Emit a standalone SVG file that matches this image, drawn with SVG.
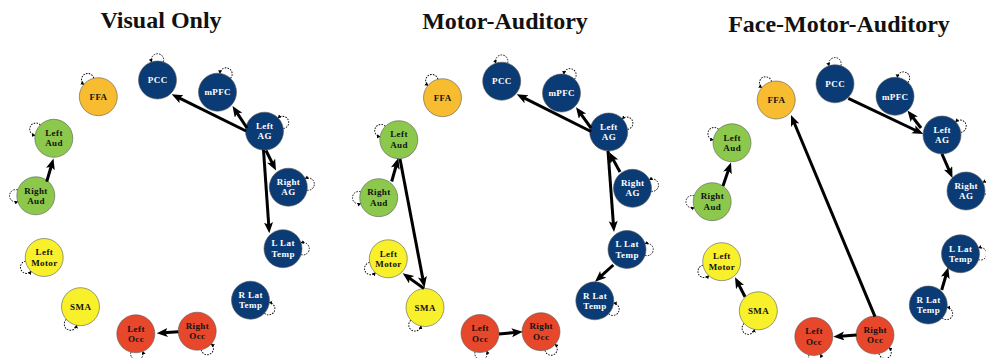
<svg xmlns="http://www.w3.org/2000/svg" xmlns:xlink="http://www.w3.org/1999/xlink" width="986" height="358" viewBox="0 0 986 358">
<style>
.title{font-family:"Liberation Serif","DejaVu Serif",serif;font-weight:bold;font-size:24px;fill:#111;text-anchor:middle}
.lbl{font-family:"Liberation Serif","DejaVu Serif",serif;font-weight:bold;font-size:9px;letter-spacing:0.4px;text-anchor:middle}
.b circle{fill:#0b3b74}.b text{fill:#fff}
.g circle{fill:#8cc84b}.y circle{fill:#f7f02b}.o circle{fill:#f7bc2f}.r circle{fill:#e7472b}
.g text,.y text,.o text,.r text{fill:#111}
circle{stroke:#5a5a5a;stroke-width:0.6}
.e{stroke:#000;stroke-width:3;fill:none;marker-end:url(#ah)}
</style>
<defs>
<marker id="ah" markerUnits="userSpaceOnUse" markerWidth="12" markerHeight="10" refX="4" refY="4.5" orient="auto"><path d="M0,0 L11,4.5 L0,9 L2.5,4.5 z" fill="#000"/></marker>
<marker id="lh" markerUnits="userSpaceOnUse" markerWidth="5" markerHeight="5" refX="3" refY="2" orient="auto"><path d="M0,0 L3.5,2 L0,4 z" fill="#000"/></marker>
<path id="loop" d="M18.07 5.87 A6.2 6.2 0 1 0 18.07 -5.87" fill="none" stroke="#000" stroke-width="0.9" stroke-dasharray="1.6 1.2" marker-end="url(#lh)"/>
</defs>
<rect width="986" height="358" fill="#fff"/>
<text class="title" x="161" y="27.5">Visual Only</text>
<text class="title" x="505" y="28.5">Motor-Auditory</text>
<text class="title" x="839" y="31.5">Face-Motor-Auditory</text>

<g id="panel1">
<g id="p1-PCC" class="b"><use href="#loop" transform="translate(157.5,80) rotate(-90)"/><circle cx="157.5" cy="80" r="19"/><text class="lbl" x="157.7" y="83.2">PCC</text></g>
<g id="p1-mPFC" class="b"><use href="#loop" transform="translate(217.5,92.2) rotate(-65)"/><circle cx="217.5" cy="92.2" r="19"/><text class="lbl" x="217.7" y="95.4">mPFC</text></g>
<g id="p1-LeftAG" class="b"><use href="#loop" transform="translate(264.5,131.2) rotate(-26)"/><circle cx="264.5" cy="131.2" r="19"/><text class="lbl" x="264.7" y="128.9">Left</text><text class="lbl" x="264.7" y="139.3">AG</text></g>
<g id="p1-RightAG" class="b"><use href="#loop" transform="translate(288.3,187.2) rotate(-9)"/><circle cx="288.3" cy="187.2" r="19"/><text class="lbl" x="288.5" y="184.9">Right</text><text class="lbl" x="288.5" y="195.3">AG</text></g>
<g id="p1-LLatTemp" class="b"><use href="#loop" transform="translate(283,248.7) rotate(0)"/><circle cx="283" cy="248.7" r="19"/><text class="lbl" x="283.2" y="246.4">L Lat</text><text class="lbl" x="283.2" y="256.8">Temp</text></g>
<g id="p1-RLatTemp" class="b"><use href="#loop" transform="translate(250.5,300.2) rotate(25)"/><circle cx="250.5" cy="300.2" r="19"/><text class="lbl" x="250.7" y="297.9">R Lat</text><text class="lbl" x="250.7" y="308.3">Temp</text></g>
<g id="p1-RightOcc" class="r"><use href="#loop" transform="translate(197.2,331.2) rotate(60)"/><circle cx="197.2" cy="331.2" r="19"/><text class="lbl" x="197.4" y="328.9">Right</text><text class="lbl" x="197.4" y="339.3">Occ</text></g>
<g id="p1-LeftOcc" class="r"><use href="#loop" transform="translate(135.8,333.8) rotate(87)"/><circle cx="135.8" cy="333.8" r="19"/><text class="lbl" x="136" y="331.5">Left</text><text class="lbl" x="136" y="341.9">Occ</text></g>
<g id="p1-SMA" class="y"><use href="#loop" transform="translate(80.5,306.7) rotate(120)"/><circle cx="80.5" cy="306.7" r="19"/><text class="lbl" x="80.7" y="309.9">SMA</text></g>
<g id="p1-LeftMotor" class="y"><use href="#loop" transform="translate(44.2,257.5) rotate(151)"/><circle cx="44.2" cy="257.5" r="19"/><text class="lbl" x="44.4" y="255.2">Left</text><text class="lbl" x="44.4" y="265.6">Motor</text></g>
<g id="p1-RightAud" class="g"><use href="#loop" transform="translate(35.8,195.8) rotate(180)"/><circle cx="35.8" cy="195.8" r="19"/><text class="lbl" x="36" y="193.5">Right</text><text class="lbl" x="36" y="203.9">Aud</text></g>
<g id="p1-LeftAud" class="g"><use href="#loop" transform="translate(53.8,138.3) rotate(-153)"/><circle cx="53.8" cy="138.3" r="19"/><text class="lbl" x="54" y="136">Left</text><text class="lbl" x="54" y="146.4">Aud</text></g>
<g id="p1-FFA" class="o"><use href="#loop" transform="translate(98.3,96.7) rotate(-122)"/><circle cx="98.3" cy="96.7" r="19"/><text class="lbl" x="98.5" y="99.9">FFA</text></g>
</g>

<g id="panel2">
<g id="p2-PCC" class="b"><use href="#loop" transform="translate(501.7,81.2) rotate(-90)"/><circle cx="501.7" cy="81.2" r="19"/><text class="lbl" x="501.9" y="84.4">PCC</text></g>
<g id="p2-mPFC" class="b"><use href="#loop" transform="translate(561.5,93) rotate(-65)"/><circle cx="561.5" cy="93" r="19"/><text class="lbl" x="561.7" y="96.2">mPFC</text></g>
<g id="p2-LeftAG" class="b"><use href="#loop" transform="translate(608.7,132) rotate(-26)"/><circle cx="608.7" cy="132" r="19"/><text class="lbl" x="608.9" y="129.7">Left</text><text class="lbl" x="608.9" y="140.1">AG</text></g>
<g id="p2-RightAG" class="b"><use href="#loop" transform="translate(632.5,188.3) rotate(-9)"/><circle cx="632.5" cy="188.3" r="19"/><text class="lbl" x="632.7" y="186">Right</text><text class="lbl" x="632.7" y="196.4">AG</text></g>
<g id="p2-LLatTemp" class="b"><use href="#loop" transform="translate(627,249.5) rotate(0)"/><circle cx="627" cy="249.5" r="19"/><text class="lbl" x="627.2" y="247.2">L Lat</text><text class="lbl" x="627.2" y="257.6">Temp</text></g>
<g id="p2-RLatTemp" class="b"><use href="#loop" transform="translate(594.8,300.8) rotate(25)"/><circle cx="594.8" cy="300.8" r="19"/><text class="lbl" x="595" y="298.5">R Lat</text><text class="lbl" x="595" y="308.9">Temp</text></g>
<g id="p2-RightOcc" class="r"><use href="#loop" transform="translate(541,331.7) rotate(60)"/><circle cx="541" cy="331.7" r="19"/><text class="lbl" x="541.2" y="329.4">Right</text><text class="lbl" x="541.2" y="339.8">Occ</text></g>
<g id="p2-LeftOcc" class="r"><use href="#loop" transform="translate(480,333.5) rotate(87)"/><circle cx="480" cy="333.5" r="19"/><text class="lbl" x="480.2" y="331.2">Left</text><text class="lbl" x="480.2" y="341.6">Occ</text></g>
<g id="p2-SMA" class="y"><use href="#loop" transform="translate(425,307.5) rotate(120)"/><circle cx="425" cy="307.5" r="19"/><text class="lbl" x="425.2" y="310.7">SMA</text></g>
<g id="p2-LeftMotor" class="y"><use href="#loop" transform="translate(388.3,258.8) rotate(151)"/><circle cx="388.3" cy="258.8" r="19"/><text class="lbl" x="388.5" y="256.5">Left</text><text class="lbl" x="388.5" y="266.9">Motor</text></g>
<g id="p2-RightAud" class="g"><use href="#loop" transform="translate(378.7,197.7) rotate(180)"/><circle cx="378.7" cy="197.7" r="19"/><text class="lbl" x="378.9" y="195.4">Right</text><text class="lbl" x="378.9" y="205.8">Aud</text></g>
<g id="p2-LeftAud" class="g"><use href="#loop" transform="translate(398.8,139.7) rotate(-153)"/><circle cx="398.8" cy="139.7" r="19"/><text class="lbl" x="399" y="137.4">Left</text><text class="lbl" x="399" y="147.8">Aud</text></g>
<g id="p2-FFA" class="o"><use href="#loop" transform="translate(442.5,97.7) rotate(-122)"/><circle cx="442.5" cy="97.7" r="19"/><text class="lbl" x="442.7" y="100.9">FFA</text></g>
</g>

<g id="panel3">
<g id="p3-PCC" class="b"><use href="#loop" transform="translate(835,83.8) rotate(-90)"/><circle cx="835" cy="83.8" r="19"/><text class="lbl" x="835.2" y="87">PCC</text></g>
<g id="p3-mPFC" class="b"><use href="#loop" transform="translate(895,96.3) rotate(-65)"/><circle cx="895" cy="96.3" r="19"/><text class="lbl" x="895.2" y="99.5">mPFC</text></g>
<g id="p3-LeftAG" class="b"><use href="#loop" transform="translate(942,135) rotate(-26)"/><circle cx="942" cy="135" r="19"/><text class="lbl" x="942.2" y="132.7">Left</text><text class="lbl" x="942.2" y="143.1">AG</text></g>
<g id="p3-RightAG" class="b"><use href="#loop" transform="translate(966,191) rotate(-9)"/><circle cx="966" cy="191" r="19"/><text class="lbl" x="966.2" y="188.7">Right</text><text class="lbl" x="966.2" y="199.1">AG</text></g>
<g id="p3-LLatTemp" class="b"><use href="#loop" transform="translate(960.5,253.8) rotate(0)"/><circle cx="960.5" cy="253.8" r="19"/><text class="lbl" x="960.7" y="251.5">L Lat</text><text class="lbl" x="960.7" y="261.9">Temp</text></g>
<g id="p3-RLatTemp" class="b"><use href="#loop" transform="translate(928.3,305) rotate(25)"/><circle cx="928.3" cy="305" r="19"/><text class="lbl" x="928.5" y="302.7">R Lat</text><text class="lbl" x="928.5" y="313.1">Temp</text></g>
<g id="p3-RightOcc" class="r"><use href="#loop" transform="translate(875,335) rotate(60)"/><circle cx="875" cy="335" r="19"/><text class="lbl" x="875.2" y="332.7">Right</text><text class="lbl" x="875.2" y="343.1">Occ</text></g>
<g id="p3-LeftOcc" class="r"><use href="#loop" transform="translate(813.8,336.5) rotate(87)"/><circle cx="813.8" cy="336.5" r="19"/><text class="lbl" x="814" y="334.2">Left</text><text class="lbl" x="814" y="344.6">Occ</text></g>
<g id="p3-SMA" class="y"><use href="#loop" transform="translate(758.3,310.8) rotate(120)"/><circle cx="758.3" cy="310.8" r="19"/><text class="lbl" x="758.5" y="314">SMA</text></g>
<g id="p3-LeftMotor" class="y"><use href="#loop" transform="translate(721.7,261.7) rotate(151)"/><circle cx="721.7" cy="261.7" r="19"/><text class="lbl" x="721.9" y="259.4">Left</text><text class="lbl" x="721.9" y="269.8">Motor</text></g>
<g id="p3-RightAud" class="g"><use href="#loop" transform="translate(712.2,201.7) rotate(180)"/><circle cx="712.2" cy="201.7" r="19"/><text class="lbl" x="712.4" y="199.4">Right</text><text class="lbl" x="712.4" y="209.8">Aud</text></g>
<g id="p3-LeftAud" class="g"><use href="#loop" transform="translate(732,142.8) rotate(-153)"/><circle cx="732" cy="142.8" r="19"/><text class="lbl" x="732.2" y="140.5">Left</text><text class="lbl" x="732.2" y="150.9">Aud</text></g>
<g id="p3-FFA" class="o"><use href="#loop" transform="translate(776.2,100) rotate(-122)"/><circle cx="776.2" cy="100" r="19"/><text class="lbl" x="776.4" y="103.2">FFA</text></g>
</g>

<g id="connectors">
<line class="e" x1="246" y1="131" x2="177.98" y2="97.4"/>
<line class="e" x1="247" y1="128" x2="236.35" y2="111.84"/>
<line class="e" x1="266" y1="150.5" x2="272.87" y2="164.24"/>
<line class="e" x1="263.5" y1="150" x2="268.81" y2="226.32"/>
<line class="e" x1="46.7" y1="181.7" x2="51.53" y2="165.22"/>
<line class="e" x1="178.3" y1="331.7" x2="163.68" y2="332.78"/>

<line class="e" x1="591" y1="131.5" x2="522.96" y2="97.43"/>
<line class="e" x1="591" y1="128" x2="580.11" y2="112.97"/>
<line class="e" x1="620" y1="172" x2="612.37" y2="158.13"/>
<line class="e" x1="608" y1="151" x2="613.48" y2="225.02"/>
<line class="e" x1="613.3" y1="265" x2="600.17" y2="276.98"/>
<line class="e" x1="391.7" y1="181.5" x2="396.41" y2="164.74"/>
<line class="e" x1="400" y1="159" x2="423.19" y2="280.62"/>
<line class="e" x1="424" y1="288.5" x2="408.4" y2="277.37"/>
<line class="e" x1="499" y1="334" x2="515.73" y2="332.38"/>

<line class="e" x1="848.3" y1="98.3" x2="916.98" y2="130.99"/>
<line class="e" x1="921" y1="128" x2="911.78" y2="116.04"/>
<line class="e" x1="942" y1="154" x2="949.69" y2="171.59"/>
<line class="e" x1="941.7" y1="290" x2="946.35" y2="274.02"/>
<line class="e" x1="875" y1="316.7" x2="793.69" y2="121.46"/>
<line class="e" x1="856.5" y1="335" x2="840.28" y2="336.19"/>
<line class="e" x1="745" y1="296.7" x2="738.21" y2="283.52"/>
<line class="e" x1="723" y1="186" x2="728.74" y2="169.13"/>
</g>
</svg>
